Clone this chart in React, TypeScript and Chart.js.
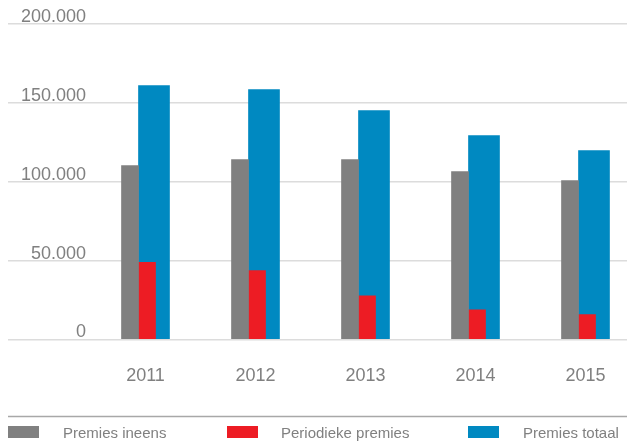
import React, { useEffect, useRef } from "react";
import { Chart, registerables } from "chart.js";

Chart.register(...registerables);

const categories = ["2011", "2012", "2013", "2014", "2015"];
const premiesIneens = [110200, 114000, 114000, 106400, 100700];
const periodiekePremies = [48900, 43600, 27700, 18800, 15700];
const premiesTotaal = [161000, 158400, 145100, 129200, 119700];
const yTickValues = [0, 50000, 100000, 150000, 200000];
const yTickLabels = ["0", "50.000", "100.000", "150.000", "200.000"];
const seriesLabels = ["Premies ineens", "Periodieke premies", "Premies totaal"];

const FONT = "'Liberation Sans', Arial, Helvetica, sans-serif";
const TEXT = "#808080";

// layout constants (pixels)
const W = 627;
const H = 445;
const PAD_LEFT = 8;
const FIRST_CENTER = 145.5;
const STEP = 110;

function shiftedAxis(shiftPx: number, display = false) {
  const min = -(FIRST_CENTER + shiftPx - PAD_LEFT) / STEP;
  const max = min + (W - PAD_LEFT) / STEP;
  return {
    type: "linear" as const,
    display,
    min,
    max,
    bounds: "data" as const,
    offset: false,
    grid: { display: false },
  };
}

const bottomLegend = {
  id: "bottomLegend",
  afterDraw(chart: any) {
    const ctx = chart.ctx;
    ctx.save();
    ctx.strokeStyle = "#a8a8a8";
    ctx.lineWidth = 1.5;
    ctx.beginPath();
    ctx.moveTo(8, 416.5);
    ctx.lineTo(W, 416.5);
    ctx.stroke();
    const boxX = [8, 227, 468];
    const textX = [63, 281, 523];
    ctx.font = `15px ${FONT}`;
    ctx.textBaseline = "alphabetic";
    ctx.textAlign = "left";
    chart.data.datasets.forEach((ds: any, i: number) => {
      ctx.fillStyle = ds.backgroundColor;
      ctx.fillRect(boxX[i], 426, 31, 12);
      ctx.fillStyle = TEXT;
      ctx.fillText(ds.label, textX[i], 437.5);
    });
    ctx.restore();
  },
};

export default function App() {
  const ref = useRef<HTMLCanvasElement | null>(null);

  useEffect(() => {
    document.body.style.margin = "0";
    if (!ref.current) return;
    const toXY = (vals: number[]) => vals.map((v, i) => ({ x: i, y: v }));
    const chart = new Chart(ref.current, {
      type: "bar",
      data: {
        datasets: [
          {
            label: seriesLabels[0],
            data: toXY(premiesIneens),
            backgroundColor: "#808080",
            xAxisID: "xg",
            barThickness: 17,
            grouped: false,
          },
          {
            label: seriesLabels[1],
            data: toXY(periodiekePremies),
            backgroundColor: "#ed1c24",
            xAxisID: "xr",
            barThickness: 17,
            grouped: false,
          },
          {
            label: seriesLabels[2],
            data: toXY(premiesTotaal),
            backgroundColor: "#0089c1",
            xAxisID: "xb",
            barThickness: 31,
            grouped: false,
          },
        ] as any,
      },
      options: {
        responsive: false,
        animation: false,
        layout: { padding: { left: PAD_LEFT, right: 0, top: 24, bottom: 32 } },
        plugins: { legend: { display: false }, tooltip: { enabled: false } },
        scales: {
          x: {
            ...shiftedAxis(0, true),
            position: "bottom",
            border: { display: false },
            grid: { display: false, drawTicks: false },
            afterBuildTicks: (axis: any) => {
              axis.ticks = categories.map((_, i) => ({ value: i }));
            },
            afterFit: (axis: any) => {
              axis.paddingLeft = 0;
              axis.paddingRight = 0;
            },
            ticks: {
              padding: 26,
              color: TEXT,
              font: { family: FONT, size: 18 },
              callback: (v: any) => categories[v as number] ?? "",
              maxRotation: 0,
              autoSkip: false,
            },
          },
          xg: shiftedAxis(-15.5),
          xr: shiftedAxis(1.5),
          xb: shiftedAxis(8.5),
          y: {
            min: 0,
            max: 200000,
            stacked: false,
            border: { display: false },
            afterBuildTicks: (axis: any) => {
              axis.ticks = yTickValues.map((v) => ({ value: v }));
            },
            afterFit: (axis: any) => {
              axis.width = 0;
              axis.paddingTop = 0;
              axis.paddingBottom = 0;
            },
            grid: { color: "#dcdcdc", lineWidth: 1.5, drawTicks: false },
            ticks: {
              mirror: true,
              crossAlign: "far",
              padding: 13,
              labelOffset: -7,
              color: TEXT,
              font: { family: FONT, size: 18 },
              callback: (v: any) => yTickLabels[yTickValues.indexOf(v as number)] ?? "",
            },
          },
        } as any,
      },
      plugins: [bottomLegend],
    });
    return () => chart.destroy();
  }, []);

  return (
    <div style={{ width: W, height: H }}>
      <canvas ref={ref} width={W} height={H} style={{ display: "block" }} />
    </div>
  );
}
